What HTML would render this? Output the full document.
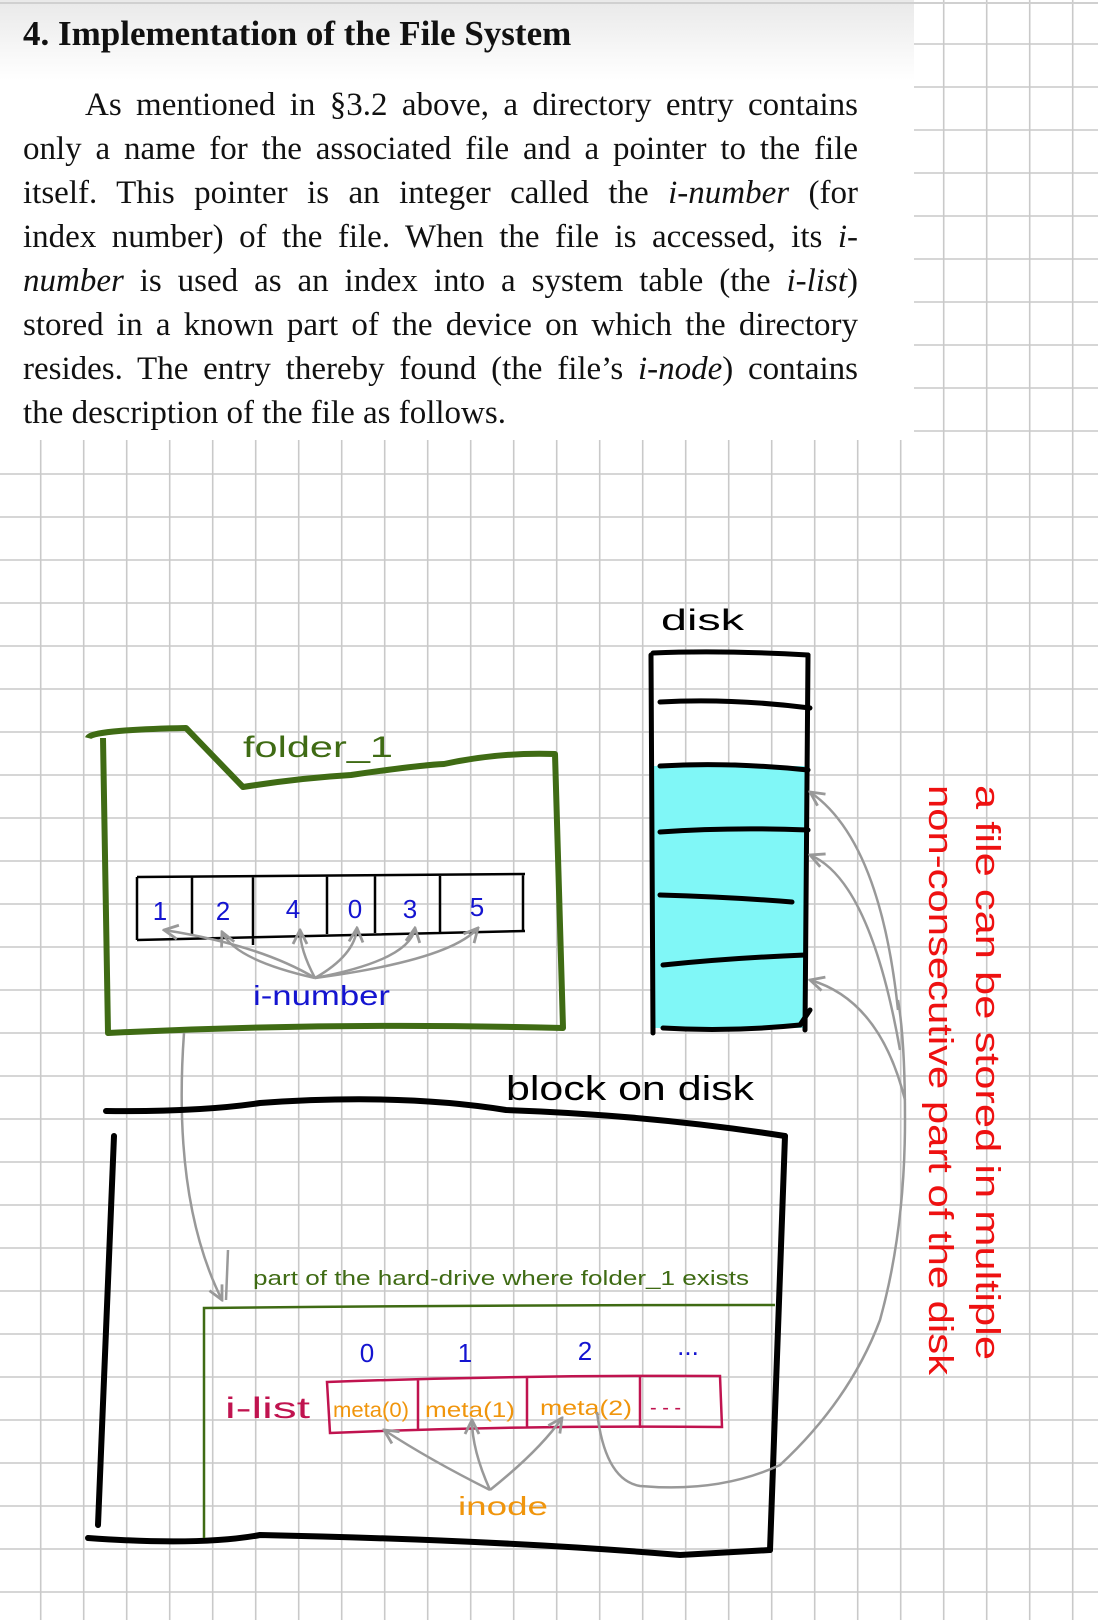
<!DOCTYPE html>
<html><head><meta charset="utf-8"><style>
html,body{margin:0;padding:0;background:#fff;}
body{width:1098px;height:1620px;position:relative;overflow:hidden;}
svg{position:absolute;left:0;top:0;}
.t{position:absolute;font-family:"Liberation Serif",serif;color:#111;}
#title{left:23px;top:14px;font-size:35px;font-weight:bold;white-space:nowrap;}
#body{left:23px;top:83px;width:835px;font-size:33px;line-height:44px;}
#body div{text-align:justify;text-align-last:justify;white-space:nowrap;}
#body div.l{text-align-last:left;}
</style></head><body>
<svg width="1098" height="1620" viewBox="0 0 1098 1620" xmlns="http://www.w3.org/2000/svg">
<defs>
<linearGradient id="g" x1="0" y1="0" x2="0" y2="1"><stop offset="0" stop-color="#e9e9e9"/><stop offset="1" stop-color="#ffffff"/></linearGradient>
<marker id="ah" viewBox="0 0 10 10" refX="9" refY="5" markerWidth="7" markerHeight="7" orient="auto-start-reverse"><path d="M1,1 L9,5 L1,9" fill="none" stroke="#999" stroke-width="1.6"/></marker>
</defs>
<rect x="0" y="0" width="914" height="80" fill="url(#g)"/>
<g stroke="#c9c9c9" stroke-width="1.6" id="grid"></g>
<line x1="0" y1="3" x2="1098" y2="3" stroke="#d0d0d0" stroke-width="2"/>

<text x="661" y="630" font-family="Liberation Sans,sans-serif" font-size="30" textLength="83" lengthAdjust="spacingAndGlyphs">disk</text>
<rect x="653" y="766" width="152" height="262" fill="#80f7f7"/>
<g stroke="#000" stroke-width="5" fill="none" stroke-linecap="round">
<path d="M651 655 L653 1033"/><path d="M808 655 L805 1030"/>
<path d="M653 653 Q720 650 808 655"/>
<path d="M660 702 Q730 698 810 708"/>
<path d="M660 766 Q730 762 808 770"/>
<path d="M660 832 Q730 827 808 830"/>
<path d="M660 895 Q730 897 792 902"/>
<path d="M663 965 Q730 958 805 955"/>
<path d="M663 1028 Q730 1032 800 1025 L810 1010"/>
</g>

<path d="M88 738 Q90 730 186 728 L243 787 Q300 778 351 775 Q420 765 444 764 Q500 752 555 754 L563 1028 Q330 1022 108 1033 L103 738" fill="none" stroke="#3f6b14" stroke-width="6" stroke-linejoin="round"/>
<text x="243" y="757" fill="#3f6b14" font-family="Liberation Sans,sans-serif" font-size="30" textLength="150" lengthAdjust="spacingAndGlyphs">folder_1</text>

<g stroke="#000" stroke-width="2.5" fill="none">
<path d="M137 877 L525 874 M137 940 L525 931 M137 877 L137 940 M192 877 L192 936 M253 877 L253 945 M327 875 L327 934 M375 875 L375 933 M440 874 L440 932 M523 874 L523 932"/>
</g>
<g fill="#1414d0" font-family="Liberation Sans,sans-serif" font-size="26" text-anchor="middle">
<text x="160" y="920">1</text><text x="223" y="920">2</text><text x="293" y="918">4</text><text x="355" y="918">0</text><text x="410" y="918">3</text><text x="477" y="916">5</text>
</g>
<g stroke="#999" stroke-width="2.5" fill="none" marker-end="url(#ah)">
<path d="M315 978 Q260 945 164 930"/>
<path d="M315 978 Q235 960 222 932"/>
<path d="M315 978 Q300 950 300 930"/>
<path d="M315 978 Q355 955 357 928"/>
<path d="M315 978 Q410 960 415 928"/>
<path d="M315 978 Q450 960 478 928"/>
</g>
<text x="253" y="1005" fill="#1414d0" font-family="Liberation Sans,sans-serif" font-size="28" textLength="137" lengthAdjust="spacingAndGlyphs">i-number</text>

<path d="M184 1033 Q172 1200 222 1300" fill="none" stroke="#999" stroke-width="2.5" marker-end="url(#ah)"/>
<path d="M228 1250 L226 1300" stroke="#999" stroke-width="2.5"/>

<text x="506" y="1100" font-family="Liberation Sans,sans-serif" font-size="34" textLength="248" lengthAdjust="spacingAndGlyphs">block on disk</text>
<g stroke="#000" stroke-width="6" fill="none" stroke-linecap="round">
<path d="M106 1111 Q200 1112 260 1103 Q400 1093 506 1110 Q650 1115 785 1136"/>
<path d="M785 1136 L770 1550"/>
<path d="M88 1538 Q200 1546 260 1535 Q500 1540 680 1555 L770 1550"/>
<path d="M114 1136 L98 1525"/>
</g>

<text x="253" y="1285" fill="#3f6b14" font-family="Liberation Sans,sans-serif" font-size="20" textLength="496" lengthAdjust="spacingAndGlyphs">part of the hard-drive where  folder_1 exists</text>
<path d="M204 1538 L204 1308 Q480 1305 775 1305" fill="none" stroke="#3f6b14" stroke-width="2.5"/>
<g fill="#1414d0" font-family="Liberation Sans,sans-serif" font-size="26" text-anchor="middle">
<text x="367" y="1362">0</text><text x="465" y="1362">1</text><text x="585" y="1360">2</text><text x="688" y="1355">...</text>
</g>
<text x="225" y="1418" fill="#c0134f" font-family="Liberation Sans,sans-serif" font-size="30" textLength="85" lengthAdjust="spacingAndGlyphs">i-list</text>
<g stroke="#c0134f" stroke-width="2.5" fill="none">
<path d="M327 1382 Q520 1375 720 1376 L722 1427 Q520 1425 330 1433 Z M418 1380 L418 1430 M527 1378 L527 1428 M640 1377 L640 1428"/>
</g>
<g fill="#f0950c" font-family="Liberation Sans,sans-serif" font-size="21">
<text x="333" y="1417" textLength="76" lengthAdjust="spacingAndGlyphs">meta(0)</text>
<text x="425" y="1417" textLength="90" lengthAdjust="spacingAndGlyphs">meta(1)</text>
<text x="540" y="1415" textLength="92" lengthAdjust="spacingAndGlyphs">meta(2)</text>
</g>
<text x="650" y="1414" fill="#c0134f" font-family="Liberation Sans,sans-serif" font-size="20">- - -</text>
<g stroke="#999" stroke-width="2.5" fill="none" marker-end="url(#ah)">
<path d="M490 1490 Q430 1460 384 1430"/>
<path d="M490 1490 Q472 1450 472 1420"/>
<path d="M490 1490 Q540 1450 562 1418"/>
</g>
<text x="458" y="1515" fill="#f0950c" font-family="Liberation Sans,sans-serif" font-size="26" textLength="90" lengthAdjust="spacingAndGlyphs">inode</text>

<g stroke="#999" stroke-width="2.5" fill="none">
<path d="M597 1412 Q605 1480 640 1486 Q720 1493 780 1465 Q850 1400 880 1320 Q905 1230 905 1120 Q905 1040 898 1000"/>
<path d="M898 1010 Q880 840 810 792" marker-end="url(#ah)"/>
<path d="M900 1050 Q870 880 810 855" marker-end="url(#ah)"/>
<path d="M905 1100 Q880 1000 810 980" marker-end="url(#ah)"/>
</g>

<g fill="#ee1111" font-family="Liberation Sans,sans-serif" font-size="34">
<text transform="translate(976,785) rotate(90)" textLength="575" lengthAdjust="spacingAndGlyphs">a file can be stored in multiple</text>
<text transform="translate(929,785) rotate(90)" textLength="590" lengthAdjust="spacingAndGlyphs">non-consecutive part of the disk</text>
</g>
</svg>
<div class="t" id="title">4. Implementation of the File System</div>
<div class="t" id="body">
<div style="padding-left:62px">As mentioned in §3.2 above, a directory entry contains</div>
<div>only a name for the associated file and a pointer to the file</div>
<div>itself. This pointer is an integer called the <i>i-number</i> (for</div>
<div>index number) of the file. When the file is accessed, its <i>i-</i></div>
<div><i>number</i> is used as an index into a system table (the <i>i-list</i>)</div>
<div>stored in a known part of the device on which the directory</div>
<div>resides. The entry thereby found (the file’s <i>i-node</i>) contains</div>
<div class="l">the description of the file as follows.</div>
</div>
<script>
var g=document.getElementById('grid'),s='';
for(var x=40.7;x<1098;x+=43){var y0=x>910?0:440;s+='<line x1="'+x+'" y1="'+y0+'" x2="'+x+'" y2="1620"/>';}
for(var y=1;y<1620;y+=43){if(y>=470)s+='<line x1="0" y1="'+y+'" x2="1098" y2="'+y+'"/>';else if(y>40)s+='<line x1="914" y1="'+y+'" x2="1098" y2="'+y+'"/>';}
g.innerHTML=s;
</script>
</body></html>
